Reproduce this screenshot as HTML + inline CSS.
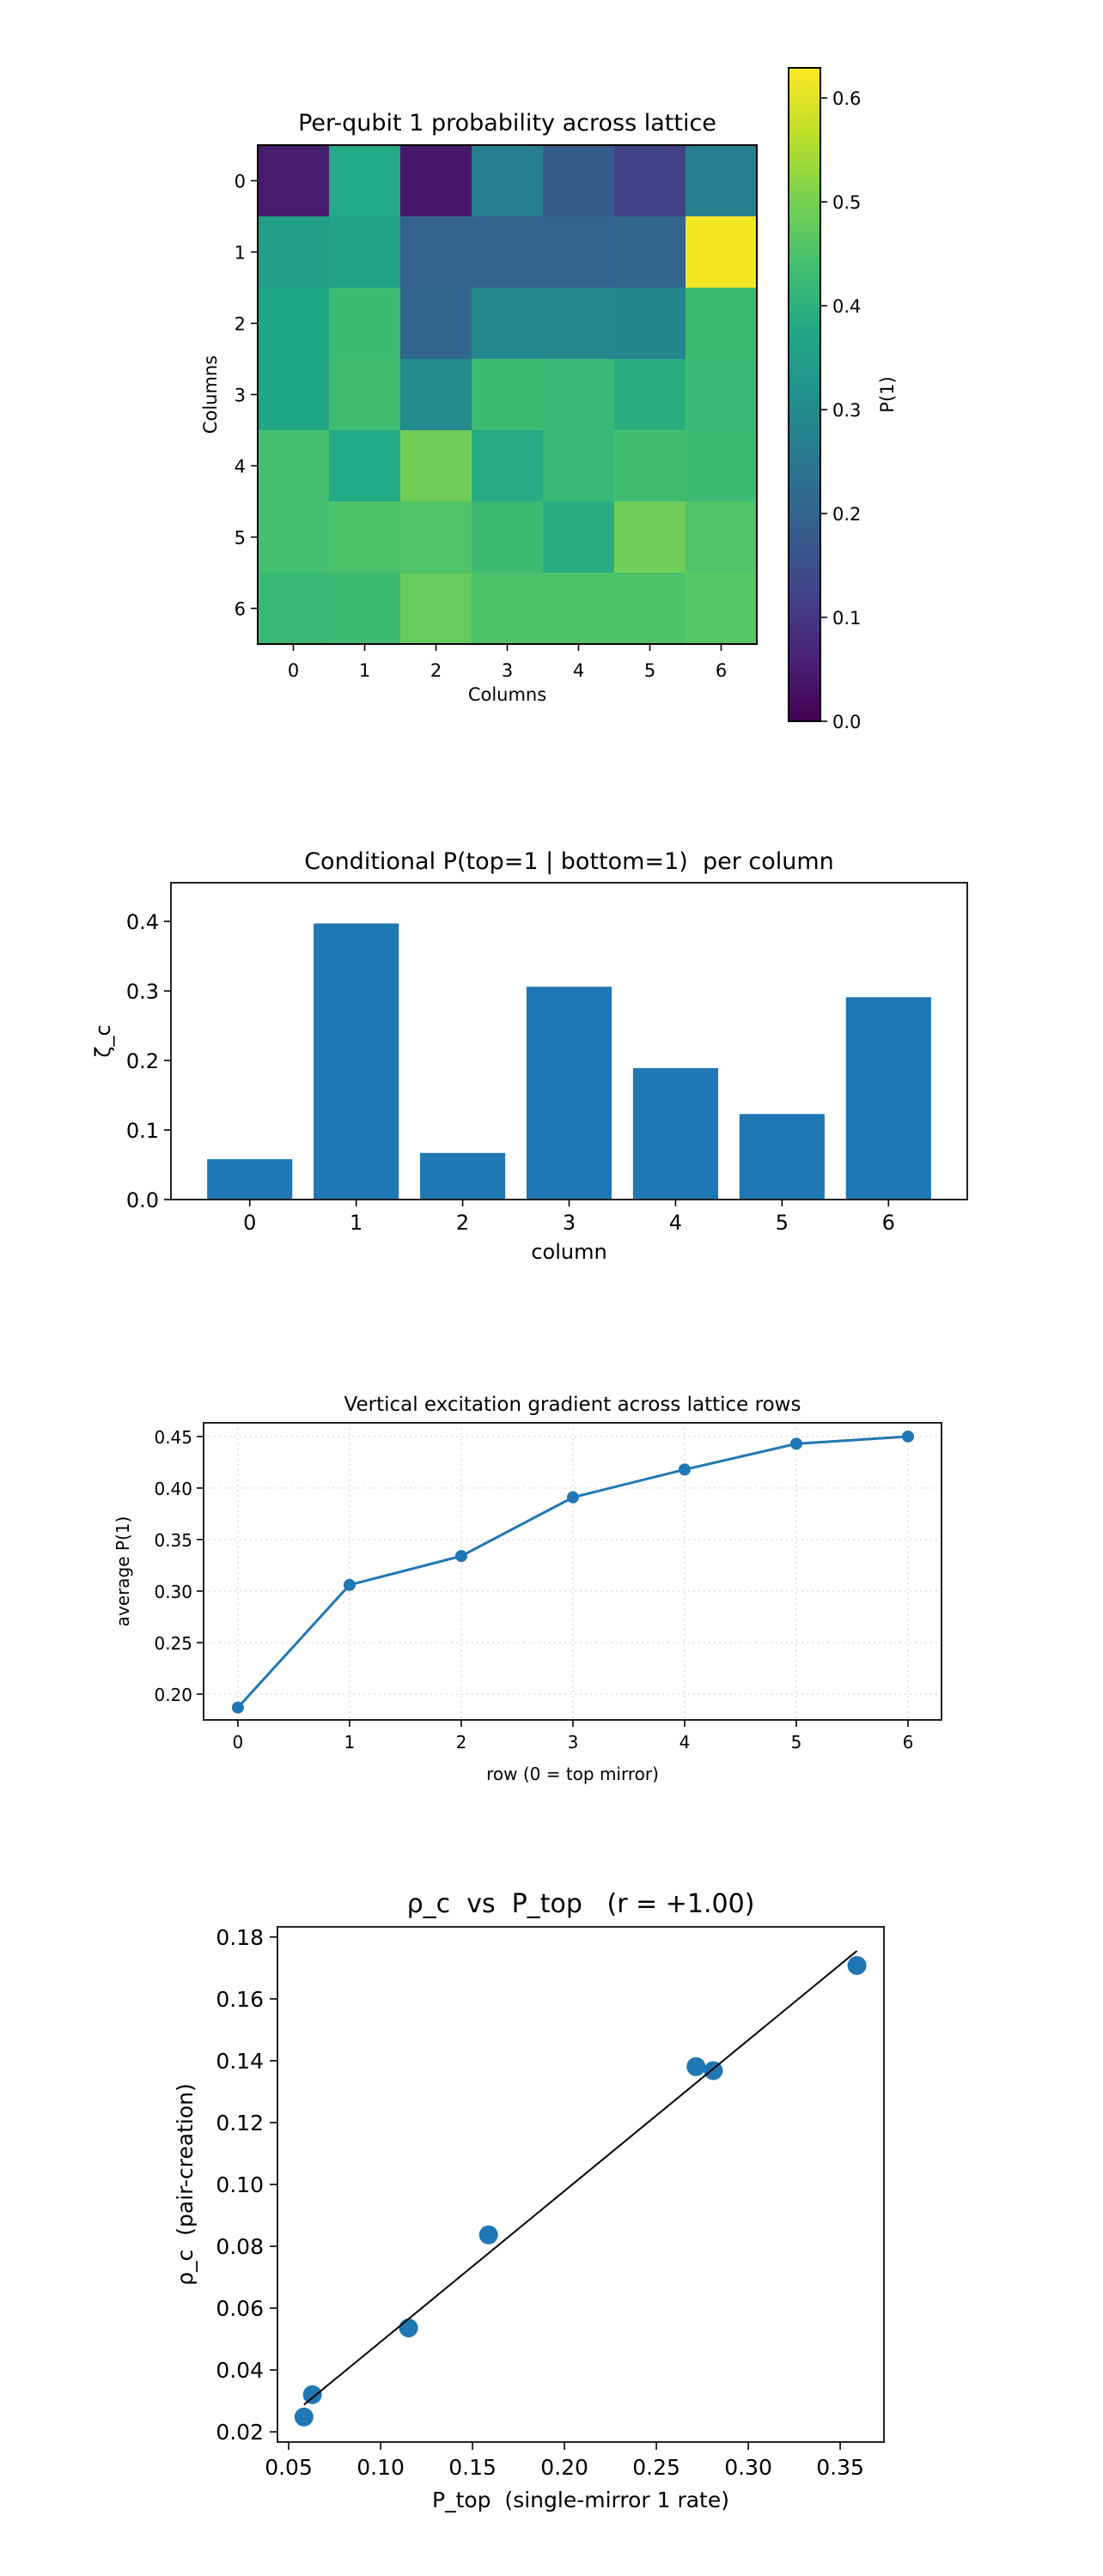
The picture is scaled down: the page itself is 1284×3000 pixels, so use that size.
<!DOCTYPE html>
<html><head><meta charset="utf-8">
<style>
html,body{margin:0;padding:0;background:#fff;}
svg{display:block;font-family:"DejaVu Sans","Liberation Sans",sans-serif;}
svg text{white-space:pre;}
</style></head>
<body>
<svg id="fig" width="1284" height="3000" viewBox="0 0 1284 3000" xmlns="http://www.w3.org/2000/svg" xml:space="preserve">
<defs>
<linearGradient id="viridisGrad" x1="0" y1="1" x2="0" y2="0">
<stop offset="0" stop-color="#440154"/><stop offset="0.1" stop-color="#482475"/><stop offset="0.2" stop-color="#414487"/><stop offset="0.3" stop-color="#355f8d"/><stop offset="0.4" stop-color="#2a788e"/><stop offset="0.5" stop-color="#21918c"/><stop offset="0.6" stop-color="#22a884"/><stop offset="0.7" stop-color="#44bf70"/><stop offset="0.8" stop-color="#7ad151"/><stop offset="0.9" stop-color="#bddf26"/><stop offset="1" stop-color="#fde725"/>
</linearGradient>
</defs>
<g id="heatmap"></g>
<g id="bars"></g>
<g id="line"></g>
<g id="scatter"></g>
</svg>
<script>
// ---------- data ----------
const heatRows = [
  [0.05,0.38,0.04,0.27,0.18,0.12,0.27],
  [0.35,0.36,0.20,0.20,0.20,0.21,0.62],
  [0.375,0.43,0.21,0.295,0.29,0.285,0.43],
  [0.375,0.435,0.30,0.43,0.42,0.39,0.425],
  [0.44,0.38,0.49,0.385,0.42,0.435,0.43],
  [0.44,0.45,0.455,0.43,0.39,0.49,0.455],
  [0.42,0.43,0.48,0.45,0.45,0.45,0.465]
];
const heatTicks = ["0","1","2","3","4","5","6"];
const cbarTicks = [0.0,0.1,0.2,0.3,0.4,0.5,0.6];
const barCats = ["0","1","2","3","4","5","6"];
const barVals = [0.058,0.397,0.067,0.306,0.189,0.123,0.291];
const barYTicks = [0.0,0.1,0.2,0.3,0.4];
const lineX = [0,1,2,3,4,5,6];
const lineY = [0.187,0.306,0.334,0.391,0.418,0.443,0.450];
const lineYTicks = [0.20,0.25,0.30,0.35,0.40,0.45];
const scatX = [0.0583,0.0629,0.1152,0.1587,0.2716,0.2810,0.3591];
const scatY = [0.0248,0.0320,0.0536,0.0837,0.1381,0.1368,0.1708];
const scatXTicks = [0.05,0.10,0.15,0.20,0.25,0.30,0.35];
const scatYTicks = [0.02,0.04,0.06,0.08,0.10,0.12,0.14,0.16,0.18];

const NS = "http://www.w3.org/2000/svg";
function mk(parent, tag, attrs, text){
  const e = document.createElementNS(NS, tag);
  for (const k in attrs) e.setAttribute(k, attrs[k]);
  if (text !== undefined) e.textContent = text;
  parent.appendChild(e);
  return e;
}
const VIR = ["#440154","#482475","#414487","#355f8d","#2a788e","#21918c","#22a884","#44bf70","#7ad151","#bddf26","#fde725"];
function hex2rgb(h){return [parseInt(h.substr(1,2),16),parseInt(h.substr(3,2),16),parseInt(h.substr(5,2),16)];}
function viridis(t){
  t = Math.max(0, Math.min(1, t));
  const p = t*10, i = Math.min(9, Math.floor(p)), f = p - i;
  const a = hex2rgb(VIR[i]), b = hex2rgb(VIR[i+1]);
  return "rgb(" + a.map((v,k)=>Math.round(v+(b[k]-v)*f)).join(",") + ")";
}

// ---------- heatmap ----------
(function(){
  const g = document.getElementById("heatmap");
  const L=300, T=169, S=581, n=7, c=S/n;
  const vmin=0, vmax=0.629;
  const cx = i => L + (i+0.5)*c;
  const cy = j => T + (j+0.5)*c;
  let t = mk(g,"text",{x:L+S/2,y:152,"text-anchor":"middle","font-size":27,fill:"#000"},"Per-qubit 1 probability across lattice");
  
  
  heatRows.forEach((row,j)=>{
    row.forEach((v,i)=>{
      const r = mk(g,"rect",{x:cx(i)-c/2,y:cy(j)-c/2,width:c+0.6,height:c+0.6,fill:viridis((v-vmin)/(vmax-vmin))});
      
      
    });
  });
  mk(g,"rect",{x:L,y:T,width:S,height:S,fill:"none",stroke:"#000","stroke-width":2});
  heatTicks.forEach((lab,i)=>{
    mk(g,"line",{x1:cx(i),x2:cx(i),y1:T+S,y2:T+S+8,stroke:"#000","stroke-width":1.6});
    let a = mk(g,"text",{x:cx(i),y:T+S+38,"text-anchor":"middle","font-size":21},lab);
    
    
    mk(g,"line",{x1:L-8,x2:L,y1:cy(i),y2:cy(i),stroke:"#000","stroke-width":1.6});
    let b = mk(g,"text",{x:L-14,y:cy(i)+8,"text-anchor":"end","font-size":21},lab);
    
    
  });
  let xl = mk(g,"text",{x:L+S/2,y:816,"text-anchor":"middle","font-size":21},"Columns");
  
  
  let yl = mk(g,"text",{x:0,y:0,"text-anchor":"middle","font-size":21,transform:"translate(252,"+(T+S/2)+") rotate(-90)"},"Columns");
  
  
  // colorbar
  const CL=918, CR=955, CT=79, CB=840;
  const cbY = v => CB - (v-vmin)/(vmax-vmin)*(CB-CT);
  let cb = mk(g,"rect",{x:CL,y:CT,width:CR-CL,height:CB-CT,fill:"url(#viridisGrad)",stroke:"#000","stroke-width":2});
  
  
  cbarTicks.forEach(v=>{
    mk(g,"line",{x1:CR,x2:CR+8,y1:cbY(v),y2:cbY(v),stroke:"#000","stroke-width":1.6});
    let tl = mk(g,"text",{x:CR+14,y:cbY(v)+8,"font-size":21},v.toFixed(1));
    
    
  });
  let cl = mk(g,"text",{x:0,y:0,"text-anchor":"middle","font-size":21,transform:"translate(1040,"+((CT+CB)/2)+") rotate(-90)"},"P(1)");
  
  
})();

// ---------- bar chart ----------
(function(){
  const g = document.getElementById("bars");
  const L=199, R=1126, T=1028, B=1397;
  const xmin=-0.74, xmax=6.74, ymin=0, ymax=0.4556;
  const X = v => L + (v-xmin)/(xmax-xmin)*(R-L);
  const Y = v => B - (v-ymin)/(ymax-ymin)*(B-T);
  let t = mk(g,"text",{x:(L+R)/2,y:1012,"text-anchor":"middle","font-size":27},"Conditional P(top=1 | bottom=1)  per column");
  
  
  barVals.forEach((v,i)=>{
    const r = mk(g,"rect",{x:X(i-0.4),y:Y(v),width:X(0.8)-X(0),height:Y(0)-Y(v),fill:"#1f77b4"});
    
    
  });
  mk(g,"rect",{x:L,y:T,width:R-L,height:B-T,fill:"none",stroke:"#222","stroke-width":2});
  barCats.forEach((lab,i)=>{
    mk(g,"line",{x1:X(i),x2:X(i),y1:B,y2:B+8,stroke:"#000","stroke-width":1.6});
    let a = mk(g,"text",{x:X(i),y:B+35,"text-anchor":"middle","font-size":24},lab);
    
    
  });
  barYTicks.forEach(v=>{
    mk(g,"line",{x1:L-8,x2:L,y1:Y(v),y2:Y(v),stroke:"#000","stroke-width":1.6});
    let a = mk(g,"text",{x:L-14,y:Y(v)+9,"text-anchor":"end","font-size":24},v.toFixed(1));
    
    
  });
  let xl = mk(g,"text",{x:(L+R)/2,y:1466,"text-anchor":"middle","font-size":24},"column");
  
  
  let yl = mk(g,"text",{x:0,y:0,"text-anchor":"middle","font-size":24,transform:"translate(128,"+((T+B)/2)+") rotate(-90)"},"ζ_c");
  
  
})();

// ---------- line chart ----------
(function(){
  const g = document.getElementById("line");
  const L=237, R=1096, T=1657, B=2003;
  const xmin=-0.307, xmax=6.3, ymin=0.175, ymax=0.4633;
  const X = v => L + (v-xmin)/(xmax-xmin)*(R-L);
  const Y = v => B - (v-ymin)/(ymax-ymin)*(B-T);
  let t = mk(g,"text",{x:(L+R)/2,y:1643,"text-anchor":"middle","font-size":23},"Vertical excitation gradient across lattice rows");
  
  
  lineX.forEach(v=>{
    mk(g,"line",{x1:X(v),x2:X(v),y1:T,y2:B,stroke:"#ddd","stroke-width":1.4,"stroke-dasharray":"2,4"});
  });
  lineYTicks.forEach(v=>{
    mk(g,"line",{x1:L,x2:R,y1:Y(v),y2:Y(v),stroke:"#ddd","stroke-width":1.4,"stroke-dasharray":"2,4"});
  });
  let d = lineX.map((x,i)=>(i?"L":"M")+X(x).toFixed(1)+","+Y(lineY[i]).toFixed(1)).join(" ");
  let p = mk(g,"path",{d:d,fill:"none",stroke:"#1f77b4","stroke-width":3});
  
  
  lineX.forEach((x,i)=>{
    const c = mk(g,"circle",{cx:X(x),cy:Y(lineY[i]),r:7,fill:"#1f77b4"});
    
    
  });
  mk(g,"rect",{x:L,y:T,width:R-L,height:B-T,fill:"none",stroke:"#222","stroke-width":2});
  lineX.forEach(v=>{
    mk(g,"line",{x1:X(v),x2:X(v),y1:B,y2:B+8,stroke:"#000","stroke-width":1.6});
    let a = mk(g,"text",{x:X(v),y:B+33,"text-anchor":"middle","font-size":20},String(v));
    
    
  });
  lineYTicks.forEach(v=>{
    mk(g,"line",{x1:L-8,x2:L,y1:Y(v),y2:Y(v),stroke:"#000","stroke-width":1.6});
    let a = mk(g,"text",{x:L-13,y:Y(v)+8,"text-anchor":"end","font-size":20},v.toFixed(2));
    
    
  });
  let xl = mk(g,"text",{x:(L+R)/2,y:2073,"text-anchor":"middle","font-size":20},"row (0 = top mirror)");
  
  
  let yl = mk(g,"text",{x:0,y:0,"text-anchor":"middle","font-size":20,transform:"translate(150,"+((T+B)/2)+") rotate(-90)"},"average P(1)");
  
  
})();

// ---------- scatter ----------
(function(){
  const g = document.getElementById("scatter");
  const L=323, R=1029, T=2244, B=2844;
  const xmin=0.0439, xmax=0.3738, ymin=0.0167, ymax=0.1833;
  const X = v => L + (v-xmin)/(xmax-xmin)*(R-L);
  const Y = v => B - (v-ymin)/(ymax-ymin)*(B-T);
  let t = mk(g,"text",{x:(L+R)/2,y:2227,"text-anchor":"middle","font-size":30},"ρ_c  vs  P_top   (r = +1.00)");
  
  
  scatX.forEach((x,i)=>{
    const c = mk(g,"circle",{cx:X(x),cy:Y(scatY[i]),r:11,fill:"#1f77b4"});
    
    
  });
  // least-squares fit
  const n = scatX.length;
  const mx = scatX.reduce((a,b)=>a+b,0)/n, my = scatY.reduce((a,b)=>a+b,0)/n;
  let sxy=0, sxx=0;
  for (let i=0;i<n;i++){ sxy += (scatX[i]-mx)*(scatY[i]-my); sxx += (scatX[i]-mx)**2; }
  const slope = sxy/sxx, icp = my - slope*mx;
  const x0 = Math.min(...scatX), x1 = Math.max(...scatX);
  const fl = mk(g,"line",{x1:X(x0),y1:Y(icp+slope*x0),x2:X(x1),y2:Y(icp+slope*x1),stroke:"#000","stroke-width":2});
  
  
  mk(g,"rect",{x:L,y:T,width:R-L,height:B-T,fill:"none",stroke:"#222","stroke-width":2});
  scatXTicks.forEach(v=>{
    mk(g,"line",{x1:X(v),x2:X(v),y1:B,y2:B+9,stroke:"#000","stroke-width":1.6});
    let a = mk(g,"text",{x:X(v),y:B+38,"text-anchor":"middle","font-size":25},v.toFixed(2));
    
    
  });
  scatYTicks.forEach(v=>{
    mk(g,"line",{x1:L-9,x2:L,y1:Y(v),y2:Y(v),stroke:"#000","stroke-width":1.6});
    let a = mk(g,"text",{x:L-16,y:Y(v)+9,"text-anchor":"end","font-size":25},v.toFixed(2));
    
    
  });
  let xl = mk(g,"text",{x:(L+R)/2,y:2920,"text-anchor":"middle","font-size":25},"P_top  (single-mirror 1 rate)");
  
  
  let yl = mk(g,"text",{x:0,y:0,"text-anchor":"middle","font-size":25,transform:"translate(224,"+((T+B)/2)+") rotate(-90)"},"ρ_c  (pair-creation)");
  
  
})();
</script>
</body></html>
